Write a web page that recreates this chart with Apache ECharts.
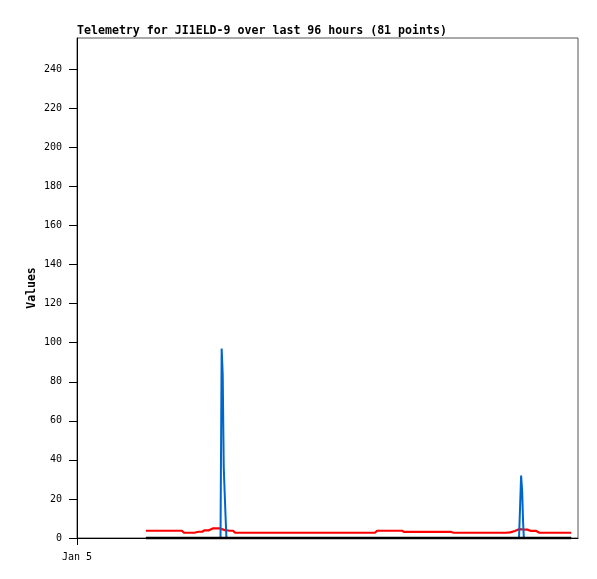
<!DOCTYPE html>
<html>
<head>
<meta charset="utf-8">
<script src="https://cdn.jsdelivr.net/npm/echarts@6/dist/echarts.min.js"></script>
<style>
html,body{margin:0;padding:0;background:#fff;}
#chart{width:597px;height:579px;}
</style>
</head>
<body>
<div id="chart"></div>
<script>
// Hours since Jan 5 00:00
const times = [
  13.2, 14.2, 15.2, 16.2, 17.2, 18.2, 19.2, 20.1,
  20.5, 21.5, 22.5,
  23.3, 24.0, 24.4, 25.2, 26.0, 27.0, 27.5,
  27.59, 27.72, 27.92, 28.02, 28.12, 28.38, 28.45, 28.63,
  29.3, 29.9, 30.3,
  31.8, 33.3, 34.8, 36.3, 37.8, 39.3, 40.8, 42.3, 43.8, 45.3, 46.8, 48.3, 49.8, 51.3, 52.8, 54.3, 55.8, 57.1,
  57.5, 58.8, 60.1, 61.3, 62.3,
  62.7, 64.2, 65.7, 67.2, 68.7, 70.2, 71.7,
  72.2, 73.7, 75.2, 76.7, 78.2, 79.7, 81.2, 82.2,
  83.0, 83.9, 84.7,
  85.04, 85.10, 85.30, 85.48, 85.62,
  86.3, 87.0, 88.0, 88.6, 90.1, 91.6, 93.1, 94.7
];
const redValues = [
  3.7, 3.7, 3.7, 3.7, 3.7, 3.7, 3.7, 3.7,
  2.7, 2.7, 2.7,
  3.2, 3.2, 3.9, 3.9, 4.9, 4.9, 4.9,
  4.8, 4.6, 4.4, 4.2, 4.1, 4.0, 4.0, 3.8,
  3.7, 3.7, 2.7,
  2.7, 2.7, 2.7, 2.7, 2.7, 2.7, 2.7, 2.7, 2.7, 2.7, 2.7, 2.7, 2.7, 2.7, 2.7, 2.7, 2.7, 2.7,
  3.7, 3.7, 3.7, 3.7, 3.7,
  3.1, 3.1, 3.1, 3.1, 3.1, 3.1, 3.1,
  2.7, 2.7, 2.7, 2.7, 2.7, 2.7, 2.7, 2.7,
  2.9, 3.6, 4.5,
  4.5, 4.5, 4.4, 4.3, 4.3,
  4.3, 3.6, 3.6, 2.7, 2.7, 2.7, 2.7, 2.7
];
const blueValues = [
  0, 0, 0, 0, 0, 0, 0, 0,
  0, 0, 0,
  0, 0, 0, 0, 0, 0, 0,
  0, 97, 84, 60, 36, 36, 12, 0,
  0, 0, 0,
  0, 0, 0, 0, 0, 0, 0, 0, 0, 0, 0, 0, 0, 0, 0, 0, 0, 0,
  0, 0, 0, 0, 0,
  0, 0, 0, 0, 0, 0, 0,
  0, 0, 0, 0, 0, 0, 0, 0,
  0, 0, 0,
  0, 32, 24, 8, 0,
  0, 0, 0, 0, 0, 0, 0, 0
];
const blackValues = [
  0, 0, 0, 0, 0, 0, 0, 0,
  0, 0, 0,
  0, 0, 0, 0, 0, 0, 0,
  0, 0, 0, 0, 0, 0, 0, 0,
  0, 0, 0,
  0, 0, 0, 0, 0, 0, 0, 0, 0, 0, 0, 0, 0, 0, 0, 0, 0, 0,
  0, 0, 0, 0, 0,
  0, 0, 0, 0, 0, 0, 0,
  0, 0, 0, 0, 0, 0, 0, 0,
  0, 0, 0,
  0, 0, 0, 0, 0,
  0, 0, 0, 0, 0, 0, 0, 0
];

const yTickValues = [0, 20, 40, 60, 80, 100, 120, 140, 160, 180, 200, 220, 240];
const xTickValues = [0];
const xTickLabels = ['Jan 5'];
const titleText = 'Telemetry for JI1ELD-9 over last 96 hours (81 points)';
const yAxisName = 'Values';

const pair = (vals) => times.map((t, i) => [t, vals[i]]);
const mono = 'DejaVu Sans Mono';

const chart = echarts.init(document.getElementById('chart'), null, {renderer: 'canvas'});
chart.setOption({
  animation: false,
  backgroundColor: '#ffffff',
  title: {
    text: titleText,
    left: 77, top: 25, padding: 0,
    textStyle: {fontFamily: mono, fontSize: 11.6, fontWeight: 'bold', color: '#000'}
  },
  grid: {left: 77, top: 38, right: 19, bottom: 41, show: true, borderColor: '#555', borderWidth: 1, backgroundColor: 'transparent'},
  xAxis: {
    type: 'value', min: 0, max: 96,
    axisLine: {show: true, onZero: false, lineStyle: {color: '#000', width: 1}},
    axisTick: {show: true, inside: false, length: 7, customValues: xTickValues, lineStyle: {color: '#000'}},
    axisLabel: {show: true, margin: 14, customValues: xTickValues, fontFamily: mono, fontSize: 10, color: '#000',
      formatter: (v) => { const i = xTickValues.indexOf(v); return i >= 0 ? xTickLabels[i] : ''; }},
    splitLine: {show: false}
  },
  yAxis: {
    type: 'value', min: 0, max: 256,
    name: yAxisName, nameLocation: 'middle', nameRotate: 90, nameGap: 39, nameMoveOverlap: false,
    nameTextStyle: {fontFamily: mono, fontSize: 11.5, fontWeight: 'bold', color: '#000'},
    axisLine: {show: true, lineStyle: {color: '#000', width: 1}},
    axisTick: {show: true, inside: false, length: 8, customValues: yTickValues, lineStyle: {color: '#000'}},
    axisLabel: {show: true, margin: 15, customValues: yTickValues, fontFamily: mono, fontSize: 10, color: '#000'},
    splitLine: {show: false}
  },
  series: [
    {type: 'line', data: pair(redValues), showSymbol: false, lineStyle: {color: '#ff0000', width: 2.2}, itemStyle: {color: '#ff0000'}},
    {type: 'line', data: pair(blueValues), showSymbol: false, lineStyle: {color: '#0066cc', width: 2}, itemStyle: {color: '#0066cc'}},
    {type: 'line', data: pair(blackValues), showSymbol: false, clip: false, lineStyle: {color: '#000000', width: 2.5}, itemStyle: {color: '#000'}}
  ]
});
</script>
</body>
</html>
